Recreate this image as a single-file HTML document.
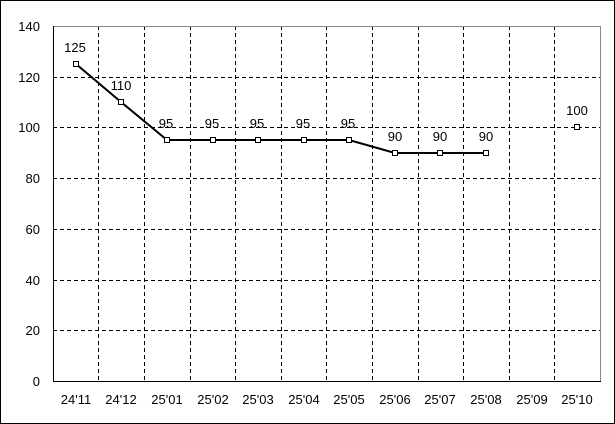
<!DOCTYPE html>
<html><head><style>body{margin:0;background:#fff}svg{display:block}text{font-family:"Liberation Sans",sans-serif;font-size:13px;fill:#000}</style></head>
<body>
<svg width="615" height="424" xmlns="http://www.w3.org/2000/svg">
<rect x="0.5" y="0.5" width="614" height="423" fill="#fff" stroke="#000"/>
<g stroke="#000" stroke-dasharray="4,3" stroke-width="1">
<line x1="53" y1="77.5" x2="600" y2="77.5"/>
<line x1="53" y1="127.5" x2="600" y2="127.5"/>
<line x1="53" y1="178.5" x2="600" y2="178.5"/>
<line x1="53" y1="229.5" x2="600" y2="229.5"/>
<line x1="53" y1="280.5" x2="600" y2="280.5"/>
<line x1="53" y1="330.5" x2="600" y2="330.5"/>
<line x1="98.5" y1="26" x2="98.5" y2="381"/>
<line x1="144.5" y1="26" x2="144.5" y2="381"/>
<line x1="190.5" y1="26" x2="190.5" y2="381"/>
<line x1="235.5" y1="26" x2="235.5" y2="381"/>
<line x1="281.5" y1="26" x2="281.5" y2="381"/>
<line x1="326.5" y1="26" x2="326.5" y2="381"/>
<line x1="372.5" y1="26" x2="372.5" y2="381"/>
<line x1="418.5" y1="26" x2="418.5" y2="381"/>
<line x1="463.5" y1="26" x2="463.5" y2="381"/>
<line x1="509.5" y1="26" x2="509.5" y2="381"/>
<line x1="554.5" y1="26" x2="554.5" y2="381"/>
</g>
<line x1="53" y1="26.5" x2="600" y2="26.5" stroke="#888"/>
<line x1="600.5" y1="26" x2="600.5" y2="381" stroke="#888"/>
<line x1="53.5" y1="26" x2="53.5" y2="381.5" stroke="#000"/>
<line x1="53" y1="381.5" x2="601" y2="381.5" stroke="#000"/>
<g text-anchor="end">
<text x="40" y="31">140</text><text x="40" y="82">120</text><text x="40" y="132">100</text>
<text x="40" y="183">80</text><text x="40" y="234">60</text><text x="40" y="285">40</text>
<text x="40" y="335">20</text><text x="40" y="386">0</text>
</g>
<g text-anchor="middle" font-size="12">
<text x="76" y="404">24'11</text><text x="121" y="404">24'12</text><text x="167" y="404">25'01</text>
<text x="213" y="404">25'02</text><text x="258" y="404">25'03</text><text x="304" y="404">25'04</text>
<text x="349" y="404">25'05</text><text x="395" y="404">25'06</text><text x="440" y="404">25'07</text>
<text x="486" y="404">25'08</text><text x="532" y="404">25'09</text><text x="577" y="404">25'10</text>
</g>
<polyline fill="none" stroke="#000" stroke-width="2" points="76,64 121,102 167,140 213,140 258,140 304,140 349,140 395,153 440,153 486,153"/>
<g fill="#fff" stroke="#000">
<rect x="73.5" y="61.5" width="5" height="5"/><rect x="118.5" y="99.5" width="5" height="5"/>
<rect x="164.5" y="137.5" width="5" height="5"/><rect x="210.5" y="137.5" width="5" height="5"/>
<rect x="255.5" y="137.5" width="5" height="5"/><rect x="301.5" y="137.5" width="5" height="5"/>
<rect x="346.5" y="137.5" width="5" height="5"/><rect x="392.5" y="150.5" width="5" height="5"/>
<rect x="437.5" y="150.5" width="5" height="5"/><rect x="483.5" y="150.5" width="5" height="5"/>
<rect x="574.5" y="124.5" width="5" height="5"/>
</g>
<g text-anchor="middle">
<text x="75" y="52">125</text><text x="121" y="90">110</text><text x="166" y="128">95</text>
<text x="212" y="128">95</text><text x="257" y="128">95</text><text x="303" y="128">95</text>
<text x="348" y="128">95</text><text x="395" y="141">90</text><text x="440" y="141">90</text>
<text x="486" y="141">90</text><text x="577" y="115">100</text>
</g>
</svg>
</body></html>
